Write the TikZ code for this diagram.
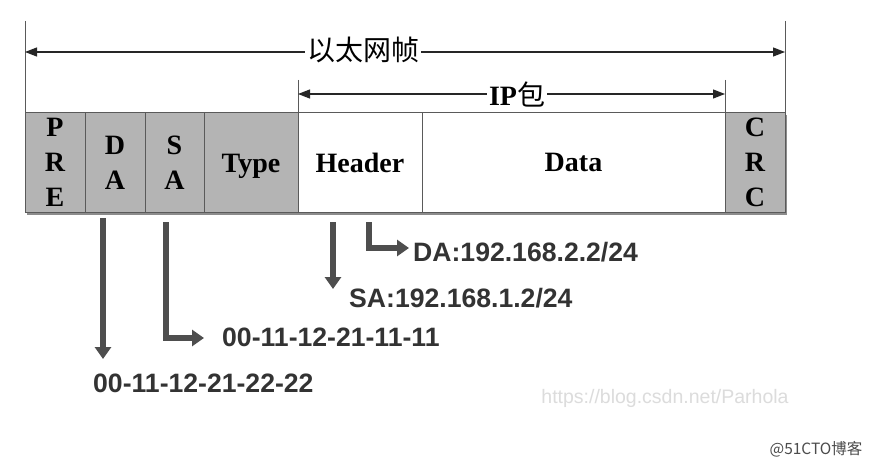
\documentclass[tikz,border=0pt]{standalone}
\usepackage{fontspec}
\setmainfont{Liberation Serif}
\newfontfamily\lsans{Liberation Sans}
\newfontfamily\cjk{Noto Sans CJK SC}
\usetikzlibrary{arrows.meta}
\definecolor{cellgray}{HTML}{B4B4B4}
\definecolor{linegray}{HTML}{5A5A5A}
\definecolor{arrowgray}{HTML}{4E4E4E}
\definecolor{txtgray}{HTML}{333333}
\definecolor{wmgray}{HTML}{DCDCDC}
\begin{document}
\begin{tikzpicture}[x=1pt,y=-1pt,
  cell/.style={draw=linegray, line width=0.8pt, minimum height=100pt, inner sep=0pt, outer sep=0pt,
    font=\fontsize{28}{35}\selectfont\bfseries, align=center},
  gcell/.style={cell, fill=cellgray},
  dim/.style={line width=1.2pt, draw=black!85, {Triangle[width=9pt,length=12pt]}-{Triangle[width=9pt,length=12pt]}},
  ext/.style={line width=1pt, draw=linegray},
  garrow/.style={line width=6pt, draw=arrowgray, -{Triangle[width=16pt,length=12pt]}},
  addr/.style={font=\lsans\bfseries\fontsize{26.6}{30}\selectfont, text=txtgray, inner sep=0pt, anchor=west},
  dimlabel/.style={fill=white, inner sep=2pt}
]
\useasboundingbox[fill=white] (0,0) rectangle (875,465);

% shadow
\fill[black!45] (27,115) rectangle (787,215);

% cells
\node[gcell, minimum width=60pt] (pre) at (55,162.5) {P\\R\\E};
\node[gcell, minimum width=60pt] (da) at (115,162.5) {D\\A};
\node[gcell, minimum width=59pt] (sa) at (174.5,162.5) {S\\A};
\node[gcell, minimum width=94pt] (type) at (251,162.5) {\vphantom{Header}\smash{Type}};
\node[cell, fill=white, minimum width=124pt] (header) at (360,162.5) {Header};
\node[cell, fill=white, minimum width=303pt] (data) at (573.5,162.5) {Data};
\node[gcell, minimum width=60pt] (crc) at (755,162.5) {C\\R\\C};

% extension lines
\coordinate (eL) at (25,21);
\coordinate (eR) at (785,21);
\coordinate (iL) at (298,80);
\coordinate (iR) at (725,80);
\draw[ext] (eL) -- (pre.north west);
\draw[ext] (eR) -- (crc.north east);
\draw[ext] (iL) -- (header.north west);
\draw[ext] (iR) -- (crc.north west);

% dimension arrows
\coordinate (eA) at (25,52);
\coordinate (eB) at (785,52);
\coordinate (iA) at (298,94);
\coordinate (iB) at (725,94);
\draw[dim] (eA) -- (eB);
\draw[dim] (iA) -- (iB);
\node[dimlabel, font=\cjk\fontsize{28}{28}\selectfont] (eth) at (363,50) {以太网帧};
\node[dimlabel, font=\fontsize{28}{28}\selectfont\bfseries] (ip) at (517,94) {IP{\cjk\mdseries 包}};

% address labels
\node[addr] (daip) at (413,252) {DA:192.168.2.2/24};
\node[addr] (saip) at (349,298) {SA:192.168.1.2/24};
\node[addr] (samac) at (222,337) {00-11-12-21-11-11};
\node[addr] (damac) at (93,383) {00-11-12-21-22-22};

% gray arrows
\coordinate (a1s) at (103,218);
\coordinate (a1e) at (103,359);
\coordinate (a2s) at (166,222);
\coordinate (a2e) at (204,338);
\coordinate (a3s) at (333,222);
\coordinate (a3e) at (333,289);
\coordinate (a4s) at (369,222);
\coordinate (a4e) at (409,248);
\draw[garrow] (a1s) -- (a1e);
\draw[garrow] (a2s) |- (a2e);
\draw[garrow] (a3s) -- (a3e);
\draw[garrow] (a4s) |- (a4e);

% watermarks
\node[font=\lsans\fontsize{19.5}{22}\selectfont, text=wmgray, inner sep=0pt] (wm1) at (665,398) {https://blog.csdn.net/Parhola};
\node[font=\cjk\fontsize{15.5}{17}\selectfont, text=black!70, inner sep=0pt] (wm2) at (816,449) {@51CTO博客};
\end{tikzpicture}
\end{document}
